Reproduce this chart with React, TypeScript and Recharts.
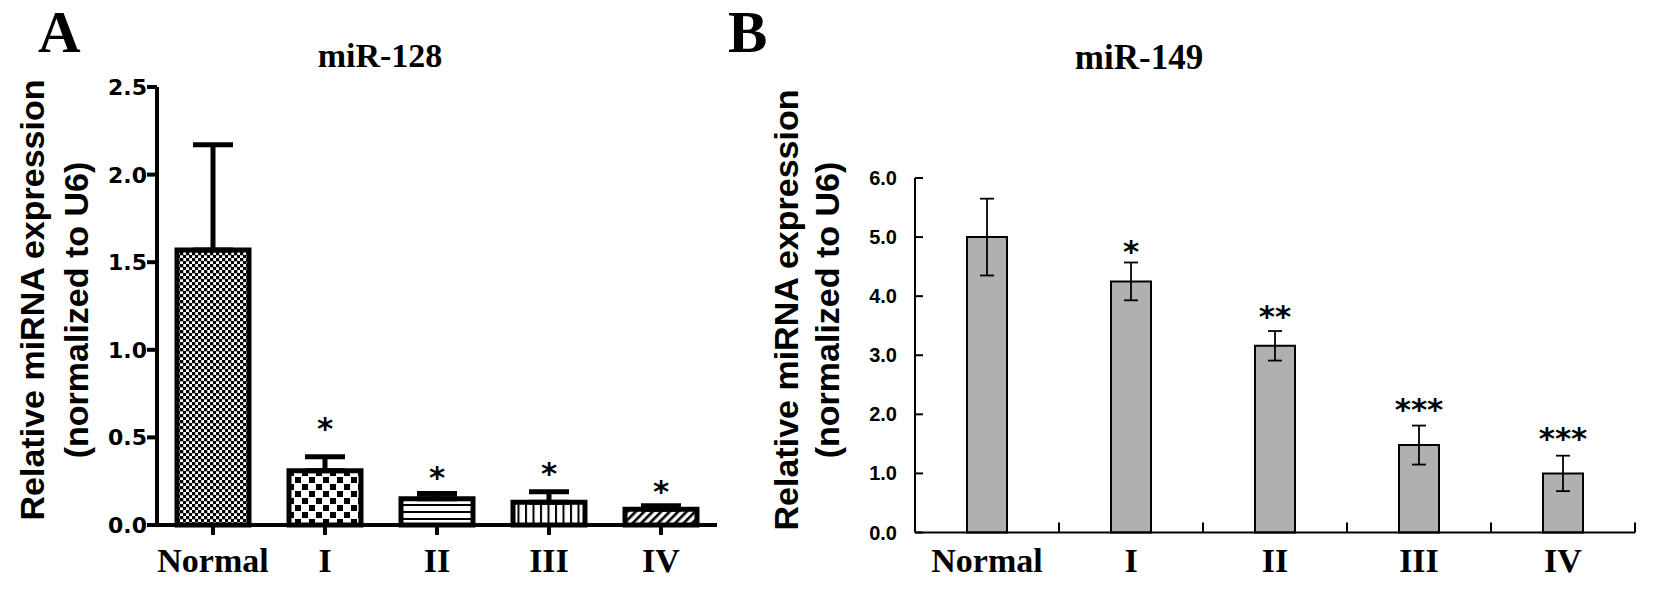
import React from 'react';
import { ComposedChart, Bar, Line, XAxis, YAxis, ErrorBar, Cell } from 'recharts';

// ---------- data ----------
const categories = ['Normal', 'I', 'II', 'III', 'IV'];

const mir128Mean = [1.57, 0.31, 0.15, 0.13, 0.09];
const mir128Err = [0.6, 0.08, 0.03, 0.06, 0.02];
const mir128Sig = ['', '*', '*', '*', '*'];
const mir128SigPos = [null, 0.59, 0.31, 0.33, 0.23];
const mir128Ticks = [0, 0.5, 1.0, 1.5, 2.0, 2.5];
const mir128Patterns = ['patNormal', 'patI', 'patII', 'patIII', 'patIV'];

const mir149Mean = [5.0, 4.25, 3.16, 1.48, 1.0];
const mir149Err = [0.65, 0.32, 0.25, 0.33, 0.3];
const mir149Sig = ['', '*', '**', '***', '***'];
const mir149SigPos = [null, 4.87, 3.77, 2.19, 1.7];
const mir149Ticks = [0, 1, 2, 3, 4, 5, 6];

const dataA = categories.map((c, i) => ({
  cat: c,
  mean: mir128Mean[i],
  err: [0, mir128Err[i]],
  sigY: mir128SigPos[i],
  sig: mir128Sig[i],
}));

const dataB = categories.map((c, i) => ({
  cat: c,
  mean: mir149Mean[i],
  err: mir149Err[i],
  sigY: mir149SigPos[i],
  sig: mir149Sig[i],
}));

const SERIF = "'Liberation Serif', 'Times New Roman', serif";
const SANS = "'Liberation Sans', Arial, sans-serif";
const DEJAVU = "'DejaVu Sans', sans-serif";

// B panel band half width (plot width 720 / 5 categories / 2)
const B_HALF_BAND = 72;

const StarDot = (props: any) => {
  const { cx, cy, payload, index } = props;
  if (cy == null || !payload || !payload.sig) return <g key={`s-${index}`} />;
  return (
    <text
      key={`s-${index}`}
      x={cx}
      y={cy + 17}
      textAnchor="middle"
      fontFamily={DEJAVU}
      fontWeight="bold"
      fontSize={31}
      fill="#000"
    >
      {payload.sig}
    </text>
  );
};

const TickYA = (props: any) => {
  const { x, y, payload } = props;
  return (
    <text x={x} y={y + 8} textAnchor="end" fontFamily={DEJAVU} fontWeight="bold" fontSize={22} fill="#000">
      {Number(payload.value).toFixed(1)}
    </text>
  );
};

const TickXA = (props: any) => {
  const { x, y, payload } = props;
  return (
    <text x={x} y={y + 37} textAnchor="middle" fontFamily={SERIF} fontWeight="bold" fontSize={34} fill="#000">
      {payload.value}
    </text>
  );
};

const TickYB = (props: any) => {
  const { x, y, payload } = props;
  return (
    <g>
      <text x={x} y={y + 7} textAnchor="end" fontFamily={SANS} fontWeight="bold" fontSize={20} fill="#000">
        {Number(payload.value).toFixed(1)}
      </text>
      <line x1={x + 18} x2={x + 26} y1={y} y2={y} stroke="#000" strokeWidth={2} />
    </g>
  );
};

const TickXB = (props: any) => {
  const { x, y, payload } = props;
  return (
    <g>
      <text x={x} y={y + 39.5} textAnchor="middle" fontFamily={SERIF} fontWeight="bold" fontSize={34} fill="#000">
        {payload.value}
      </text>
      <line x1={x + B_HALF_BAND} x2={x + B_HALF_BAND} y1={y} y2={y - 10} stroke="#000" strokeWidth={2} />
    </g>
  );
};

export default function App() {
  return (
    <div
      style={{
        position: 'absolute',
        left: 0,
        top: 0,
        width: 1654,
        height: 590,
        background: '#fff',
        overflow: 'hidden',
      }}
    >
      <svg width={0} height={0} style={{ position: 'absolute' }}>
        <defs>
          <pattern id="patNormal" width="6" height="6" patternUnits="userSpaceOnUse">
            <rect width="6" height="6" fill="#fff" />
            <rect x="0" y="0" width="3.3" height="3.3" fill="#000" />
            <rect x="3" y="3" width="3.3" height="3.3" fill="#000" />
          </pattern>
          <pattern id="patI" width="14" height="14" patternUnits="userSpaceOnUse">
            <rect width="14" height="14" fill="#fff" />
            <rect x="1" y="1" width="6" height="6" fill="#000" />
            <rect x="8" y="8" width="6" height="6" fill="#000" />
          </pattern>
          <pattern id="patII" width="7" height="7" patternUnits="userSpaceOnUse">
            <rect width="7" height="7" fill="#fff" />
            <rect x="0" y="0" width="7" height="2" fill="#000" />
          </pattern>
          <pattern id="patIII" width="7.5" height="7" patternUnits="userSpaceOnUse">
            <rect width="7.5" height="7" fill="#fff" />
            <rect x="0" y="0" width="2" height="7" fill="#000" />
          </pattern>
          <pattern id="patIV" width="6" height="6" patternUnits="userSpaceOnUse" patternTransform="rotate(45)">
            <rect width="6" height="6" fill="#fff" />
            <rect x="0" y="0" width="2.6" height="6" fill="#000" />
          </pattern>
        </defs>
      </svg>

      {/* Panel A */}
      <div style={{ position: 'absolute', left: 0, top: 0 }}>
        <ComposedChart width={730} height={590} data={dataA} margin={{ top: 87, right: 13, bottom: 35, left: 97 }}>
          <XAxis
            dataKey="cat"
            type="category"
            height={30}
            axisLine={{ stroke: '#000', strokeWidth: 4 }}
            tickLine={{ stroke: '#000', strokeWidth: 4 }}
            tickSize={10}
            tickMargin={0}
            tick={<TickXA />}
            interval={0}
          />
          <YAxis
            width={60}
            domain={[0, 2.5]}
            ticks={mir128Ticks}
            axisLine={{ stroke: '#000', strokeWidth: 4 }}
            tickLine={{ stroke: '#000', strokeWidth: 4 }}
            tickSize={10}
            tickMargin={0}
            tick={<TickYA />}
            interval={0}
          />
          <Bar dataKey="mean" barSize={72} stroke="#000" strokeWidth={5} isAnimationActive={false}>
            {dataA.map((d, i) => (
              <Cell key={d.cat} fill={`url(#${mir128Patterns[i]})`} />
            ))}
            <ErrorBar dataKey="err" width={20} strokeWidth={5} stroke="#000" />
          </Bar>
          <Line dataKey="sigY" stroke="none" dot={StarDot} activeDot={false} isAnimationActive={false} legendType="none" />
        </ComposedChart>
      </div>

      {/* Panel B */}
      <div style={{ position: 'absolute', left: 700, top: 0 }}>
        <ComposedChart width={954} height={590} data={dataB} margin={{ top: 178, right: 19, bottom: 27.5, left: 155 }}>
          <XAxis
            dataKey="cat"
            type="category"
            height={30}
            axisLine={{ stroke: '#000', strokeWidth: 2 }}
            tickLine={false}
            tickSize={0}
            tickMargin={0}
            tick={<TickXB />}
            interval={0}
          />
          <YAxis
            width={60}
            domain={[0, 6]}
            ticks={mir149Ticks}
            axisLine={{ stroke: '#000', strokeWidth: 2 }}
            tickLine={false}
            tickSize={0}
            tickMargin={18}
            tick={<TickYB />}
            interval={0}
          />
          <Bar dataKey="mean" barSize={40} fill="#b0b0b0" stroke="#000" strokeWidth={2} isAnimationActive={false}>
            <ErrorBar dataKey="err" width={7} strokeWidth={1.8} stroke="#000" />
          </Bar>
          <Line dataKey="sigY" stroke="none" dot={StarDot} activeDot={false} isAnimationActive={false} legendType="none" />
        </ComposedChart>
      </div>

      {/* Titles and labels */}
      <svg width={1654} height={590} style={{ position: 'absolute', left: 0, top: 0, pointerEvents: 'none' }}>
        <text x={38} y={52} fontFamily={SERIF} fontWeight="bold" fontSize={59} fill="#000">A</text>
        <text x={728} y={52} fontFamily={SERIF} fontWeight="bold" fontSize={59} fill="#000">B</text>
        <text x={380} y={67} textAnchor="middle" fontFamily={SERIF} fontWeight="bold" fontSize={34} fill="#000">miR-128</text>
        <text x={1139} y={69} textAnchor="middle" fontFamily={SERIF} fontWeight="bold" fontSize={35} fill="#000">miR-149</text>

        <text x={44} y={300} transform="rotate(-90, 44, 300)" textAnchor="middle" fontFamily={SANS} fontWeight="bold" fontSize={34} fill="#000">
          Relative miRNA expression
        </text>
        <text x={88} y={310} transform="rotate(-90, 88, 310)" textAnchor="middle" fontFamily={SANS} fontWeight="bold" fontSize={34} fill="#000">
          (normalized to U6)
        </text>

        <text x={798} y={310} transform="rotate(-90, 798, 310)" textAnchor="middle" fontFamily={SANS} fontWeight="bold" fontSize={34} fill="#000">
          Relative miRNA expression
        </text>
        <text x={839} y={310} transform="rotate(-90, 839, 310)" textAnchor="middle" fontFamily={SANS} fontWeight="bold" fontSize={34} fill="#000">
          (normalized to U6)
        </text>
      </svg>
    </div>
  );
}
